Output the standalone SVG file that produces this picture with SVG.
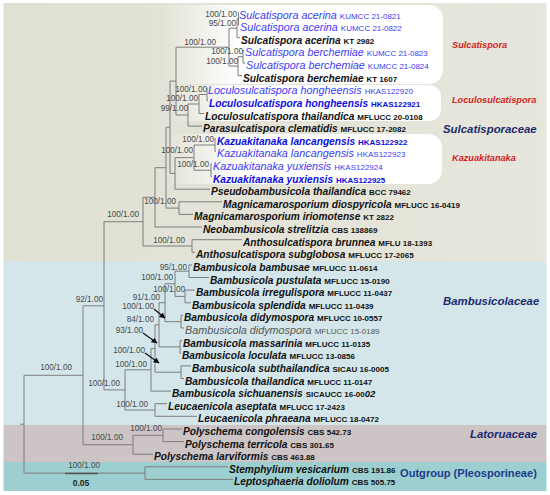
<svg xmlns="http://www.w3.org/2000/svg" width="550" height="495" viewBox="0 0 550 495">
<defs>
<style>
.sp{font-family:"Liberation Sans",Arial,sans-serif;font-style:italic;font-weight:bold;font-size:10.2px;fill:#111}
.n{font-weight:normal;font-size:10.8px}
.bl{fill:#3d3df2}
.bb{fill:#0c0cdc}
.gr{fill:#555}
.cd{font-style:normal;font-size:8px}
.lab{font-family:"Liberation Sans",Arial,sans-serif;font-size:8.2px;fill:#4a4a4a;text-anchor:end}
.tree{stroke:#7d7d7d;stroke-width:1;fill:none}
.arr{stroke:#111;stroke-width:1.2;fill:none;marker-end:url(#ah)}
.gen{font-family:"Liberation Sans",Arial,sans-serif;font-style:italic;font-weight:bold;font-size:9.2px;fill:#d21f1f}
.fam{font-family:"Liberation Sans",Arial,sans-serif;font-style:italic;font-weight:bold;font-size:11.4px;fill:#1b2a6e}
.og{font-family:"Liberation Sans",Arial,sans-serif;font-style:normal;font-weight:bold;font-size:11.1px;fill:#1d3a8c}
.bar{stroke:#555;stroke-width:1.3;fill:none}
</style>
<linearGradient id="wf" x1="0" y1="0" x2="1" y2="0">
<stop offset="0" stop-color="#fff" stop-opacity="0"/>
<stop offset="0.28" stop-color="#fff" stop-opacity="0.97"/>
<stop offset="1" stop-color="#fff" stop-opacity="1"/>
</linearGradient>
<linearGradient id="bg" x1="0" y1="0" x2="1" y2="0">
<stop offset="0" stop-color="#e0e0d3"/>
<stop offset="1" stop-color="#e6e6dc"/>
</linearGradient>
<marker id="ah" viewBox="0 0 10 10" refX="9" refY="5" markerWidth="5" markerHeight="5" orient="auto">
<path d="M0,0 L10,5 L0,10 z" fill="#111"/>
</marker>
</defs>
<rect width="550" height="495" fill="#fff"/>
<g id="background">
<rect x="3.5" y="3" width="543" height="258" fill="url(#bg)"/>
<rect x="3.5" y="261" width="543" height="164" fill="#d4e6ea"/>
<rect x="3.5" y="425" width="543" height="37" fill="#cdc4c5"/>
<rect x="3.5" y="462" width="543" height="29" fill="#9dcfd0"/>
<rect x="160" y="5" width="283" height="79" rx="14" fill="url(#wf)"/>
<rect x="165" y="85" width="276" height="36" rx="12" fill="url(#wf)"/>
<rect x="165" y="134" width="277" height="50" rx="14" fill="url(#wf)"/>
</g>
<g id="connectors" class="tree">
<path d="M238.5,12.5V25.1M237,18.8V37.7M243,50.4V63M238,56.7V75.6M229,28.25V66.1M207,88.2V100.8M199,94.5V113.5M188,104V126.1M176,47.2V115M215,138.7V151.3M211,163.9V176.6M194,145V170.25M175,157.6V189.2M170,81.1V173.4M179,201.8V214.4M166,127.25V208.1M155,167.7V227M192,239.7V252.3M143,197.3V246"/>
<path d="M189,264.9V277.5M185,290.1V302.8M175,271.2V296.4M181,315.4V328M165,283.8V321.7M180,340.6V353.2M159,302.7V346.9M181,365.9V378.5M155,324.8V372.2M151,348.5V391.1M155,403.7V416.3M125,369.8V410M104,221.7V389.9M163,429V441.6M133,435.3V454.2M83,305.8V444.75M145,466.8V479.4M24,375.3V473.1"/>
<path d="M237,18.8H238.5M229,28.25H237M238,56.7H243M229,66.1H238M176,47.2H229M199,94.5H207M188,104H199M176,115H188M170,81.1H176M194,145H215M194,170.25H211M175,157.6H194M170,173.4H175M166,127.25H170M166,208.1H179M155,167.7H166M143,197.3H155M143,246H192M104,221.7H143"/>
<path d="M175,271.2H189M175,296.4H185M165,283.8H175M165,321.7H181M159,302.7H165M159,346.9H180M155,324.8H159M155,372.2H181M151,348.5H155M125,369.8H151M125,410H155M104,389.9H125M83,305.8H104M133,435.3H163M83,444.75H133M24,375.3H83M24,473.1H145M20,424.2H24"/>
<path d="M238.5,12.5H238.8M238.5,25.1H239M237,37.7H240M243,50.4H244M243,63H245M238,75.6H242M207,88.2H207.5M207,100.8H208M199,113.5H204M188,126.1H202M215,138.7H216M215,151.3H216M211,163.9H212M211,176.6H212M175,189.2H210M179,201.8H222M179,214.4H193M155,227H202M192,239.7H242M192,252.3H195"/>
<path d="M189,264.9H192M189,277.5H209M185,290.1H195M185,302.8H191M181,315.4H183M181,328H184M180,340.6H182M180,353.2H181M181,365.9H191M181,378.5H184M151,391.1H171M155,403.7H167M155,416.3H197M163,429H182M163,441.6H184M133,454.2H153M145,466.8H228M145,479.4H233"/>
<path class="arr" d="M154,309L165,318"/>
<path class="arr" d="M143,333L157,343"/>
<path class="arr" d="M145,353L159,363"/>
</g>
<g id="support">
<text class="lab" x="237" y="17">100/1.00</text>
<text class="lab" x="236" y="26">95/1.00</text>
<text class="lab" x="243" y="54">100/1.00</text>
<text class="lab" x="238" y="64">100/1.00</text>
<text class="lab" x="216" y="45">100/1.00</text>
<text class="lab" x="207" y="92">100/1.00</text>
<text class="lab" x="198" y="101">100/1.00</text>
<text class="lab" x="188" y="111">99/1.00</text>
<text class="lab" x="214" y="142">100/1.00</text>
<text class="lab" x="209" y="167">100/1.00</text>
<text class="lab" x="193" y="153">100/1.00</text>
<text class="lab" x="176" y="204">100/1.00</text>
<text class="lab" x="139" y="217">100/1.00</text>
<text class="lab" x="185" y="243">100/1.00</text>
<text class="lab" x="187" y="270">95/1.00</text>
<text class="lab" x="173" y="280">100/1.00</text>
<text class="lab" x="185" y="292">100/1.00</text>
<text class="lab" x="160" y="300">91/1.00</text>
<text class="lab" x="154" y="309">100/1.00</text>
<text class="lab" x="154" y="322">84/1.00</text>
<text class="lab" x="143" y="333">93/1.00</text>
<text class="lab" x="145" y="353">100/1.00</text>
<text class="lab" x="147" y="367">100/1.00</text>
<text class="lab" x="120" y="386">100/1.00</text>
<text class="lab" x="148" y="407">100/1.00</text>
<text class="lab" x="103" y="302">92/1.00</text>
<text class="lab" x="72" y="370">100/1.00</text>
<text class="lab" x="162" y="431">100/1.00</text>
<text class="lab" x="123" y="440">100/1.00</text>
<text class="lab" x="100" y="468">100/1.00</text>
</g>
<g id="t00"><text class="sp n bl" x="239" y="18.5">Sulcatispora acerina <tspan class="cd">KUMCC 21-0821</tspan></text></g>
<g id="t01"><text class="sp n bl" x="240" y="31.1">Sulcatispora acerina <tspan class="cd">KUMCC 21-0822</tspan></text></g>
<g id="t02"><text class="sp" x="241" y="43.7">Sulcatispora acerina <tspan class="cd">KT 2982</tspan></text></g>
<g id="t03"><text class="sp n bl" x="245" y="56.4">Sulcatispora berchemiae <tspan class="cd">KUMCC 21-0823</tspan></text></g>
<g id="t04"><text class="sp n bl" x="246" y="69">Sulcatispora berchemiae <tspan class="cd">KUMCC 21-0824</tspan></text></g>
<g id="t05"><text class="sp" x="243" y="81.6">Sulcatispora berchemiae <tspan class="cd">KT 1607</tspan></text></g>
<g id="t06"><text class="sp n bl" x="208" y="94.2">Loculosulcatispora hongheensis <tspan class="cd">HKAS122920</tspan></text></g>
<g id="t07"><text class="sp bb" x="209" y="106.8">Loculosulcatispora hongheensis <tspan class="cd">HKAS122921</tspan></text></g>
<g id="t08"><text class="sp" x="205" y="119.5">Loculosulcatispora thailandica <tspan class="cd">MFLUCC 20-0108</tspan></text></g>
<g id="t09"><text class="sp" x="203" y="132.1">Parasulcatispora clematidis <tspan class="cd">MFLUCC 17-2082</tspan></text></g>
<g id="t10"><text class="sp bb" x="217" y="144.7">Kazuakitanaka lancangensis <tspan class="cd">HKAS122922</tspan></text></g>
<g id="t11"><text class="sp n bl" x="217" y="157.3">Kazuakitanaka lancangensis <tspan class="cd">HKAS122923</tspan></text></g>
<g id="t12"><text class="sp n bl" x="213" y="169.9">Kazuakitanaka yuxiensis <tspan class="cd">HKAS122924</tspan></text></g>
<g id="t13"><text class="sp bb" x="213" y="182.6">Kazuakitanaka yuxiensis <tspan class="cd">HKAS122925</tspan></text></g>
<g id="t14"><text class="sp" x="211" y="195.2">Pseudobambusicola thailandica <tspan class="cd">BCC 79462</tspan></text></g>
<g id="t15"><text class="sp" x="223" y="207.8">Magnicamarosporium diospyricola <tspan class="cd">MFLUCC 16-0419</tspan></text></g>
<g id="t16"><text class="sp" x="194" y="220.4">Magnicamarosporium iriomotense <tspan class="cd">KT 2822</tspan></text></g>
<g id="t17"><text class="sp" x="203" y="233">Neobambusicola strelitzia <tspan class="cd">CBS 138869</tspan></text></g>
<g id="t18"><text class="sp" x="243" y="245.7">Anthosulcatispora brunnea <tspan class="cd">MFLU 18-1393</tspan></text></g>
<g id="t19"><text class="sp" x="196" y="258.3">Anthosulcatispora subglobosa <tspan class="cd">MFLUCC 17-2065</tspan></text></g>
<g id="t20"><text class="sp" x="193" y="270.9">Bambusicola bambusae <tspan class="cd">MFLUCC 11-0614</tspan></text></g>
<g id="t21"><text class="sp" x="210" y="283.5">Bambusicola pustulata <tspan class="cd">MFLUCC 15-0190</tspan></text></g>
<g id="t22"><text class="sp" x="196" y="296.1">Bambusicola irregulispora <tspan class="cd">MFLUCC 11-0437</tspan></text></g>
<g id="t23"><text class="sp" x="192" y="308.8">Bambusicola splendida <tspan class="cd">MFLUCC 11-0439</tspan></text></g>
<g id="t24"><text class="sp" x="184" y="321.4">Bambusicola didymospora <tspan class="cd">MFLUCC 10-0557</tspan></text></g>
<g id="t25"><text class="sp n gr" x="185" y="334">Bambusicola didymospora <tspan class="cd">MFLUCC 15-0189</tspan></text></g>
<g id="t26"><text class="sp" x="183" y="346.6">Bambusicola massarinia <tspan class="cd">MFLUCC 11-0135</tspan></text></g>
<g id="t27"><text class="sp" x="182" y="359.2">Bambusicola loculata <tspan class="cd">MFLUCC 13-0856</tspan></text></g>
<g id="t28"><text class="sp" x="192" y="371.9">Bambusicola subthailandica <tspan class="cd">SICAU 16-0005</tspan></text></g>
<g id="t29"><text class="sp" x="185" y="384.5">Bambusicola thailandica <tspan class="cd">MFLUCC 11-0147</tspan></text></g>
<g id="t30"><text class="sp" x="172" y="397.1">Bambusicola sichuanensis <tspan class="cd">SICAUCC 16-00</tspan><tspan font-size="9.5px">02</tspan></text></g>
<g id="t31"><text class="sp" x="168" y="409.7">Leucaenicola aseptata <tspan class="cd">MFLUCC 17-2423</tspan></text></g>
<g id="t32"><text class="sp" x="198" y="422.3">Leucaenicola phraeana <tspan class="cd">MFLUCC 18-0472</tspan></text></g>
<g id="t33"><text class="sp" x="183" y="435">Polyschema congolensis <tspan class="cd">CBS 542.73</tspan></text></g>
<g id="t34"><text class="sp" x="185" y="447.6">Polyschema terricola <tspan class="cd">CBS 301.65</tspan></text></g>
<g id="t35"><text class="sp" x="154" y="460.2">Polyschema larviformis <tspan class="cd">CBS 463.88</tspan></text></g>
<g id="t36"><text class="sp" x="229" y="472.8">Stemphylium vesicarium <tspan class="cd">CBS 191.86</tspan></text></g>
<g id="t37"><text class="sp" x="234" y="485.4">Leptosphaeria doliolum <tspan class="cd">CBS 505.75</tspan></text></g>
<g id="clades">
<text class="gen" x="452" y="48">Sulcatispora</text>
<text class="gen" x="452" y="103">Loculosulcatispora</text>
<text class="gen" x="452" y="161">Kazuakitanaka</text>
<text class="fam" x="443" y="133">Sulcatisporaceae</text>
<text class="fam" x="443" y="305">Bambusicolaceae</text>
<text class="fam" x="470" y="438">Latoruaceae</text>
<text class="og" x="400" y="477">Outgroup (Pleosporineae)</text>
</g>
<g id="scale">
<path class="bar" d="M65,473.5H98"/>
<text x="81" y="486" text-anchor="middle" font-family="Liberation Sans, Arial, sans-serif" font-weight="bold" font-size="8.5px" fill="#222">0.05</text>
</g>
</svg>
